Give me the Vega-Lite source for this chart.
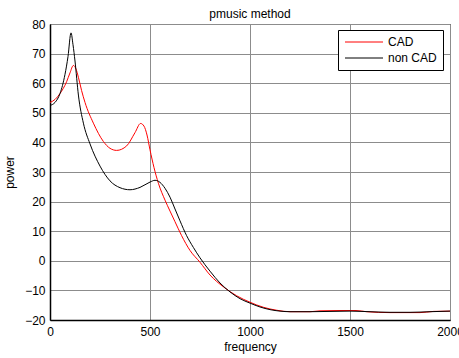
{
  "$schema": "https://vega.github.io/schema/vega-lite/v6.json",
  "width": 400,
  "height": 296,
  "autosize": {"type": "none"},
  "padding": {"left": 50, "top": 24, "right": 9, "bottom": 38},
  "background": "white",
  "title": {"text": "pmusic method", "fontSize": 12, "fontWeight": "normal", "font": "Liberation Sans", "color": "black", "offset": 6, "dy": 9},
  "config": {
    "view": {"stroke": "black", "strokeWidth": 1},
    "axis": {"labelFont": "Liberation Sans", "titleFont": "Liberation Sans", "labelFontSize": 12, "titleFontSize": 12, "titleFontWeight": "normal", "labelColor": "black", "titleColor": "black", "domainColor": "black", "domainWidth": 1.5, "gridColor": "#8c8c8c", "gridOpacity": 1, "gridWidth": 1, "ticks": false}
  },
  "data": {"values": [
    {"series": "CAD", "frequency": 0, "power": 53.5},
    {"series": "CAD", "frequency": 25, "power": 54.5},
    {"series": "CAD", "frequency": 50, "power": 56.5},
    {"series": "CAD", "frequency": 83, "power": 60.5},
    {"series": "CAD", "frequency": 100, "power": 63.5},
    {"series": "CAD", "frequency": 117, "power": 66},
    {"series": "CAD", "frequency": 130, "power": 64.8},
    {"series": "CAD", "frequency": 142, "power": 62},
    {"series": "CAD", "frequency": 158, "power": 57.5},
    {"series": "CAD", "frequency": 175, "power": 53.5},
    {"series": "CAD", "frequency": 217, "power": 46.5},
    {"series": "CAD", "frequency": 267, "power": 40.3},
    {"series": "CAD", "frequency": 300, "power": 38},
    {"series": "CAD", "frequency": 333, "power": 37.3},
    {"series": "CAD", "frequency": 383, "power": 38.8},
    {"series": "CAD", "frequency": 425, "power": 43.3},
    {"series": "CAD", "frequency": 453, "power": 46.4},
    {"series": "CAD", "frequency": 470, "power": 45.5},
    {"series": "CAD", "frequency": 485, "power": 42.5},
    {"series": "CAD", "frequency": 500, "power": 37.5},
    {"series": "CAD", "frequency": 520, "power": 31.5},
    {"series": "CAD", "frequency": 542, "power": 26.2},
    {"series": "CAD", "frequency": 575, "power": 20.5},
    {"series": "CAD", "frequency": 600, "power": 16.8},
    {"series": "CAD", "frequency": 625, "power": 13.2},
    {"series": "CAD", "frequency": 658, "power": 8.5},
    {"series": "CAD", "frequency": 700, "power": 3.5},
    {"series": "CAD", "frequency": 750, "power": -0.5},
    {"series": "CAD", "frequency": 800, "power": -4.8},
    {"series": "CAD", "frequency": 867, "power": -8.8},
    {"series": "CAD", "frequency": 933, "power": -11.8},
    {"series": "CAD", "frequency": 1000, "power": -14},
    {"series": "CAD", "frequency": 1067, "power": -15.7},
    {"series": "CAD", "frequency": 1133, "power": -16.7},
    {"series": "CAD", "frequency": 1200, "power": -17.2},
    {"series": "CAD", "frequency": 1300, "power": -17.2},
    {"series": "CAD", "frequency": 1350, "power": -16.9},
    {"series": "CAD", "frequency": 1450, "power": -16.8},
    {"series": "CAD", "frequency": 1530, "power": -16.8},
    {"series": "CAD", "frequency": 1583, "power": -17.2},
    {"series": "CAD", "frequency": 1700, "power": -17.5},
    {"series": "CAD", "frequency": 1850, "power": -17.5},
    {"series": "CAD", "frequency": 1917, "power": -17.1},
    {"series": "CAD", "frequency": 2000, "power": -17.0},
    {"series": "non CAD", "frequency": 0, "power": 52.5},
    {"series": "non CAD", "frequency": 25, "power": 53.5},
    {"series": "non CAD", "frequency": 50, "power": 56.5},
    {"series": "non CAD", "frequency": 75, "power": 63},
    {"series": "non CAD", "frequency": 90, "power": 69},
    {"series": "non CAD", "frequency": 105, "power": 77},
    {"series": "non CAD", "frequency": 115, "power": 73},
    {"series": "non CAD", "frequency": 125, "power": 67.5},
    {"series": "non CAD", "frequency": 142, "power": 56},
    {"series": "non CAD", "frequency": 167, "power": 46.5},
    {"series": "non CAD", "frequency": 200, "power": 39.5},
    {"series": "non CAD", "frequency": 250, "power": 32},
    {"series": "non CAD", "frequency": 300, "power": 27},
    {"series": "non CAD", "frequency": 350, "power": 24.7},
    {"series": "non CAD", "frequency": 400, "power": 24},
    {"series": "non CAD", "frequency": 450, "power": 24.8},
    {"series": "non CAD", "frequency": 500, "power": 26.6},
    {"series": "non CAD", "frequency": 525, "power": 27.2},
    {"series": "non CAD", "frequency": 550, "power": 26.5},
    {"series": "non CAD", "frequency": 575, "power": 24.5},
    {"series": "non CAD", "frequency": 600, "power": 21.5},
    {"series": "non CAD", "frequency": 625, "power": 17.5},
    {"series": "non CAD", "frequency": 650, "power": 13.5},
    {"series": "non CAD", "frequency": 683, "power": 8.5},
    {"series": "non CAD", "frequency": 717, "power": 4.5},
    {"series": "non CAD", "frequency": 750, "power": 1},
    {"series": "non CAD", "frequency": 800, "power": -3.5},
    {"series": "non CAD", "frequency": 850, "power": -7.5},
    {"series": "non CAD", "frequency": 900, "power": -10.5},
    {"series": "non CAD", "frequency": 950, "power": -12.8},
    {"series": "non CAD", "frequency": 1000, "power": -14.3},
    {"series": "non CAD", "frequency": 1050, "power": -15.6},
    {"series": "non CAD", "frequency": 1100, "power": -16.5},
    {"series": "non CAD", "frequency": 1150, "power": -17},
    {"series": "non CAD", "frequency": 1200, "power": -17.2},
    {"series": "non CAD", "frequency": 1300, "power": -17.2},
    {"series": "non CAD", "frequency": 1400, "power": -17.1},
    {"series": "non CAD", "frequency": 1500, "power": -17},
    {"series": "non CAD", "frequency": 1600, "power": -17.2},
    {"series": "non CAD", "frequency": 1700, "power": -17.4},
    {"series": "non CAD", "frequency": 1800, "power": -17.4},
    {"series": "non CAD", "frequency": 1900, "power": -17.2},
    {"series": "non CAD", "frequency": 2000, "power": -17.0}
  ]},
  "mark": {"type": "line", "strokeWidth": 1, "interpolate": "monotone"},
  "encoding": {
    "x": {"field": "frequency", "type": "quantitative", "scale": {"domain": [0, 2000], "nice": false, "zero": false}, "axis": {"title": "frequency", "format": "d", "values": [0, 500, 1000, 1500, 2000], "labelPadding": 6, "titlePadding": 4, "labelFlush": false}},
    "y": {"field": "power", "type": "quantitative", "scale": {"domain": [-20, 80], "nice": false, "zero": false}, "axis": {"title": "power", "format": "d", "values": [-20, -10, 0, 10, 20, 30, 40, 50, 60, 70, 80], "labelPadding": 5, "titlePadding": 8, "labelFlush": false}},
    "color": {"field": "series", "type": "nominal", "scale": {"domain": ["CAD", "non CAD"], "range": ["#ff0000", "#000000"]},
      "legend": {"title": null, "orient": "none", "legendX": 288, "legendY": 6, "strokeColor": "black", "fillColor": "white", "padding": 6, "labelFont": "Liberation Sans", "labelFontSize": 12, "labelColor": "black", "symbolType": "M-3.8,0H3.8", "symbolSize": 100, "symbolStrokeWidth": 1, "symbolOffset": 14, "labelOffset": 18, "rowPadding": 4}}
  }
}
